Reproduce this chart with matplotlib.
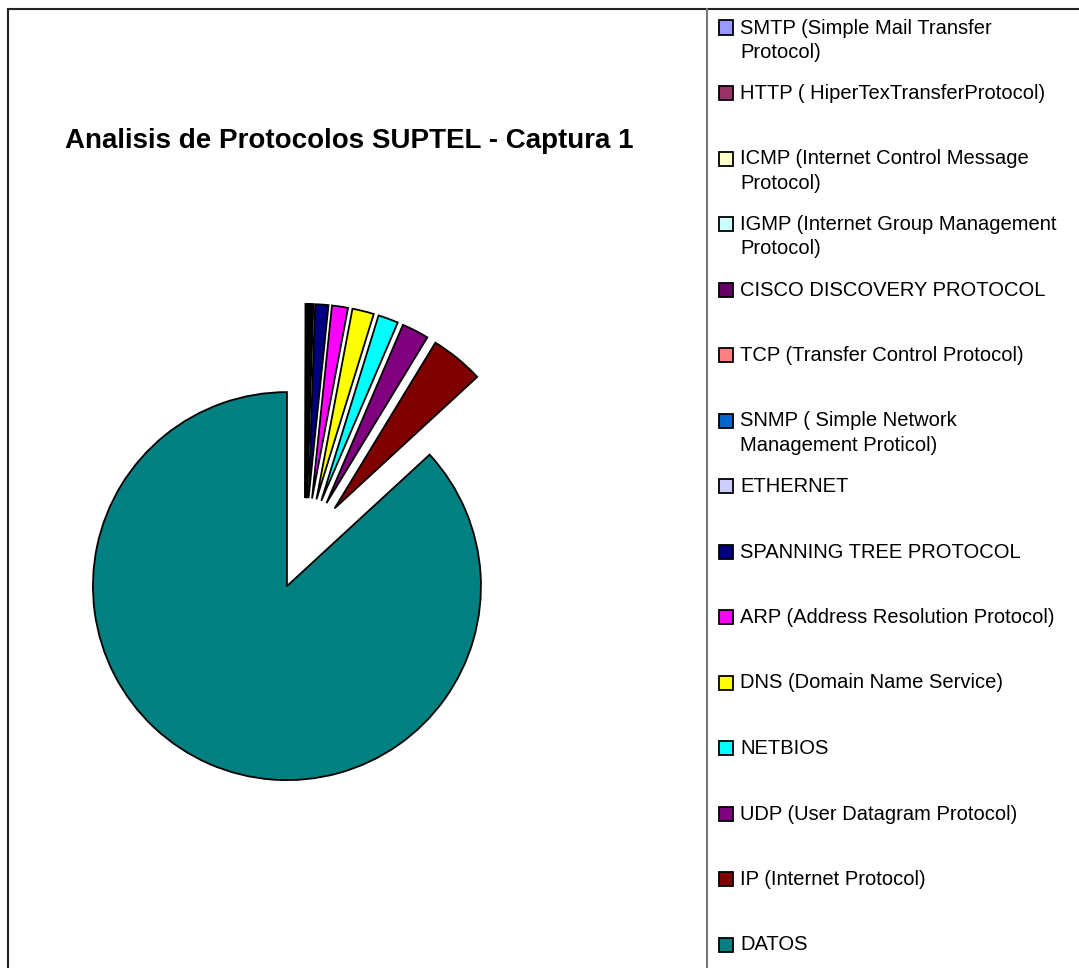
import matplotlib
matplotlib.use("Agg")
import matplotlib.pyplot as plt
from matplotlib.lines import Line2D
from matplotlib.patches import Rectangle

# ── Data ───────────────────────────────────────────────────────────────────
protocols = [
    "SMTP (Simple Mail Transfer\nProtocol)",
    "HTTP ( HiperTexTransferProtocol)",
    "ICMP (Internet Control Message\nProtocol)",
    "IGMP (Internet Group Management\nProtocol)",
    "CISCO DISCOVERY PROTOCOL",
    "TCP (Transfer Control Protocol)",
    "SNMP ( Simple Network\nManagement Proticol)",
    "ETHERNET",
    "SPANNING TREE PROTOCOL",
    "ARP (Address Resolution Protocol)",
    "DNS (Domain Name Service)",
    "NETBIOS",
    "UDP (User Datagram Protocol)",
    "IP (Internet Protocol)",
    "DATOS",
]
shares = [0.04, 0.04, 0.04, 0.04, 0.06, 0.10, 0.12, 0.10,
          1.10, 1.33, 1.80, 1.68, 2.25, 4.45, 86.85]
colors = ["#9999FF", "#993366", "#FFFFCC", "#CCFFFF", "#660066",
          "#FF8080", "#0066CC", "#CCCCFF", "#000080", "#FF00FF",
          "#FFFF00", "#00FFFF", "#800080", "#800000", "#008080"]
explode_all = 0.237

TITLE = "Analisis de Protocolos SUPTEL - Captura 1"

# ── Figure ─────────────────────────────────────────────────────────────────
W, H = 1079, 968
fig = plt.figure(figsize=(W / 100, H / 100), dpi=100, facecolor="white")
plt.rcParams["font.family"] = ["Liberation Sans", "DejaVu Sans"]


def fx(px):
    return px / W


def fy(py):
    return 1 - py / H


# pie axes: centre (305, 545) px, radius 194 px
cx, cy, r_px, half = 305.4, 544.0, 194.0, 300.0
ax = fig.add_axes([fx(cx - half), fy(cy + half), 2 * half / W, 2 * half / H])
explode = [explode_all] * len(shares)
ax.pie(shares, colors=colors, explode=explode, startangle=90,
       counterclock=False, radius=1.0,
       wedgeprops=dict(edgecolor="black", linewidth=1.3))
lim = half / r_px
ax.set_xlim(-lim, lim)
ax.set_ylim(-lim, lim)
ax.set_aspect("equal")
ax.axis("off")

# title
fig.text(fx(349), fy(141), TITLE, ha="center", va="center",
         fontsize=20, fontweight="bold", color="black")

# borders
fig.add_artist(Line2D([fx(8), fx(8)], [fy(9), 0], color="#222222", lw=1.5))
fig.add_artist(Line2D([fx(8), 1], [fy(9), fy(9)], color="#222222", lw=1.5))
fig.add_artist(Line2D([fx(707), fx(707)], [fy(9), 0], color="#777777", lw=1.5))

# legend
y0, step = 27.5, 65.5
for i, (lab, col) in enumerate(zip(protocols, colors)):
    yc = y0 + i * step
    fig.add_artist(Rectangle((fx(718.5), fy(yc + 7)), 14 / W, 14 / H,
                             facecolor=col, edgecolor="black", lw=1.3,
                             transform=fig.transFigure))
    fig.text(fx(740), fy(yc - 9), lab, ha="left", va="top",
             fontsize=14.5, color="black", linespacing=1.36)

fig.savefig("out.png", dpi=100, facecolor="white")
